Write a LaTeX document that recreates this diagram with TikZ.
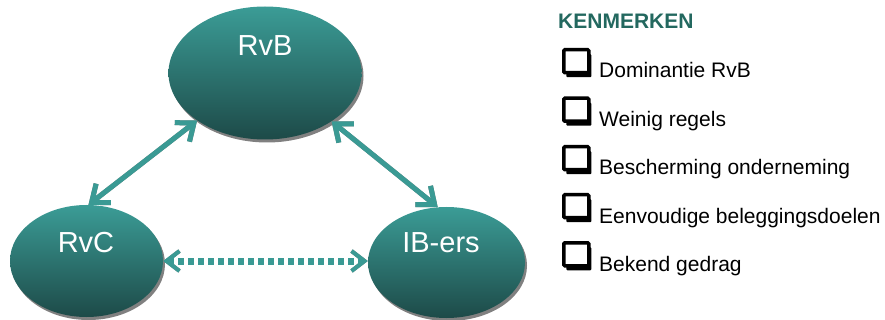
\documentclass[tikz,border=0pt]{standalone}
\usepackage{fontspec}
\setmainfont{Liberation Sans}
\usetikzlibrary{shapes.geometric,arrows.meta,shadows}
\definecolor{tealtop}{HTML}{3B9C96}
\definecolor{tealbot}{HTML}{1D4A48}
\definecolor{arrteal}{HTML}{3A9A94}
\definecolor{shgray}{HTML}{808080}
\definecolor{headteal}{HTML}{23685F}
\begin{document}
\begin{tikzpicture}[x=1pt,y=-1pt,
  oval/.style={ellipse, inner sep=0pt, top color=tealtop, bottom color=tealbot, draw=none,
    drop shadow={shadow xshift=2pt, shadow yshift=-3pt, fill=shgray, opacity=1}},
  ovaltext/.style={text=white, font=\fontsize{29}{32}\selectfont, anchor=base, inner sep=0pt},
  barb/.tip={Straight Barb[length=15pt,width=24pt,line width=5pt]},
  dbarb/.tip={Straight Barb[length=13pt,width=20pt,line width=4pt]},
  link/.style={line width=5pt, draw=arrteal, barb-barb},
  linkshadow/.style={link, draw=shgray, xshift=1.5pt, yshift=-2.5pt},
  dotlink/.style={line width=7pt, draw=arrteal, dash pattern=on 6pt off 4pt, dbarb-dbarb},
  dotshadow/.style={dotlink, draw=shgray, xshift=1.5pt, yshift=-2.5pt},
  chk/.style={draw=black, line width=3.5pt, fill=white, rounded corners=1pt, minimum width=25pt, minimum height=23pt, inner sep=0pt,
    drop shadow={shadow xshift=2.5pt, shadow yshift=-4.5pt, fill=black, opacity=1}},
  itemtext/.style={anchor=base west, inner sep=0pt, font=\fontsize{21}{24}\selectfont},
  title/.style={anchor=base west, inner sep=0pt, text=headteal, font=\bfseries\fontsize{21}{24}\selectfont}
]
\useasboundingbox (0,0) rectangle (885,320);

% ovals
\node[oval, minimum width=193pt, minimum height=133pt] (rvb) at (265,73) {};
\node[oval, minimum width=153pt, minimum height=112pt] (rvc) at (86.5,261) {};
\node[oval, minimum width=157pt, minimum height=111pt] (ib) at (446.5,262.5) {};
\node[ovaltext] (trvb) at (265,56) {RvB};
\node[ovaltext] (trvc) at (86,252) {RvC};
\node[ovaltext] (tib) at (441,252) {IB-ers};

% connectors
\draw[linkshadow] (rvb.215.5) -- (rvc.88);
\draw[link] (rvb.215.5) -- (rvc.88);
\draw[linkshadow] (rvb.324.5) -- (ib.99.4);
\draw[link] (rvb.324.5) -- (ib.99.4);
\draw[dotshadow] (rvc.east) -- (rvc.east -| ib.west);
\draw[dotlink] (rvc.east) -- (rvc.east -| ib.west);

% legend
\node[title] (kt) at (558,28.7) {KENMERKEN};
\node[chk] (c1) at (576.25,61.25) {};
\node[itemtext] (i1) at (599,78) {Dominantie RvB};
\node[chk] (c2) at (576.25,109.75) {};
\node[itemtext] (i2) at (599,126.5) {Weinig regels};
\node[chk] (c3) at (576.25,158.25) {};
\node[itemtext] (i3) at (599,175) {Bescherming onderneming};
\node[chk] (c4) at (576.25,206.25) {};
\node[itemtext] (i4) at (599,223) {Eenvoudige beleggingsdoelen};
\node[chk] (c5) at (576.25,254.25) {};
\node[itemtext] (i5) at (599,271) {Bekend gedrag};
\end{tikzpicture}
\end{document}
